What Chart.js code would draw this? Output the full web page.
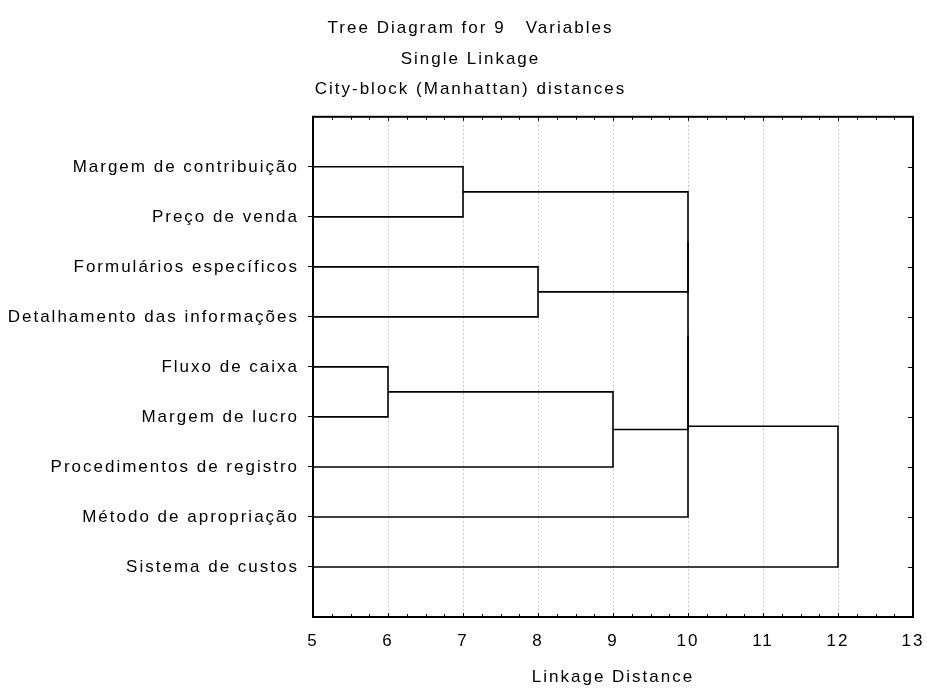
<!DOCTYPE html>
<html>
<head>
<meta charset="utf-8">
<script src="https://cdn.jsdelivr.net/npm/chart.js@4.4.1/dist/chart.umd.min.js"></script>
<style>
  html, body { margin: 0; padding: 0; background: #fff; }
  #wrap { width: 927px; height: 688px; }
</style>
</head>
<body>
<div id="wrap"><canvas id="tree"></canvas></div>
<script>
// leaves, top to bottom
const variables = [
    'Margem de contribuição',
    'Preço de venda',
    'Formulários específicos',
    'Detalhamento das informações',
    'Fluxo de caixa',
    'Margem de lucro',
    'Procedimentos de registro',
    'Método de apropriação',
    'Sistema de custos'
];
// merges: node ids 0..8 are leaves, each merge creates node 9, 10, ...
const joinA = [4, 0, 2, 9, 10, 13, 14, 15];
const joinB = [5, 1, 3, 6, 11, 12, 7, 8];
const joinDist = [6, 7, 8, 9, 10, 10, 10, 12];
const distTicks = [5, 6, 7, 8, 9, 10, 11, 12, 13];
const titleLines = ['Tree Diagram for 9   Variables', 'Single Linkage', 'City-block (Manhattan) distances'];

const FONT = 'Arial, "Liberation Sans", sans-serif';
const SPACING = '2px';

// node positions (row and height) built from the merge table
const nodeRow = variables.map((v, i) => i + 1);
const nodeDist = variables.map(() => distTicks[0]);
const datasets = [];
for (let k = 0; k < joinA.length; k++) {
    const a = joinA[k], b = joinB[k], d = joinDist[k];
    datasets.push({
        data: [
            {x: nodeDist[a], y: nodeRow[a]},
            {x: d, y: nodeRow[a]},
            {x: d, y: nodeRow[b]},
            {x: nodeDist[b], y: nodeRow[b]}
        ],
        showLine: true,
        borderColor: '#000',
        borderWidth: 1.6,
        pointRadius: 0,
        fill: false
    });
    nodeRow.push((nodeRow[a] + nodeRow[b]) / 2);
    nodeDist.push(d);
}

// frame + small inside tick marks like the original
const framePlugin = {
    id: 'frame',
    // canvas resize wipes ctx state, so set spacing again before measuring and drawing
    beforeUpdate(chart) { chart.ctx.letterSpacing = SPACING; },
    beforeLayout(chart) { chart.ctx.letterSpacing = SPACING; },
    beforeDraw(chart) { chart.ctx.letterSpacing = SPACING; },
    afterLayout(chart) {
        // title sits a little right of the canvas centre in the original
        if (chart.titleBlock) chart.titleBlock.left = 14;
    },
    afterDatasetsDraw(chart) {
        const {ctx, chartArea: a, scales} = chart;
        ctx.save();
        ctx.strokeStyle = '#000';
        ctx.lineWidth = 1;
        ctx.beginPath();
        for (let v = distTicks[0]; v <= distTicks[distTicks.length - 1] + 0.001; v += 0.25) {
            const px = Math.round(scales.x.getPixelForValue(v)) + 0.5;
            const len = Math.abs(v - Math.round(v)) < 0.01 ? 4 : 3;
            ctx.moveTo(px, a.top); ctx.lineTo(px, a.top + len);
            ctx.moveTo(px, a.bottom); ctx.lineTo(px, a.bottom - len);
        }
        variables.forEach((v, i) => {
            const py = Math.round(scales.y.getPixelForValue(i + 1)) + 0.5;
            ctx.moveTo(a.right, py); ctx.lineTo(a.right - 5, py);
        });
        ctx.stroke();
        ctx.lineWidth = 2;
        ctx.strokeRect(a.left, a.top, a.right - a.left, a.bottom - a.top);
        ctx.restore();
    }
};

new Chart(document.getElementById('tree'), {
    type: 'scatter',
    data: { datasets: datasets },
    plugins: [framePlugin],
    options: {
        responsive: true,
        maintainAspectRatio: false,
        animation: false,
        layout: { padding: 0 },
        plugins: {
            legend: { display: false },
            tooltip: { enabled: false },
            title: {
                display: true,
                text: titleLines,
                color: '#000',
                font: { family: FONT, size: 17, weight: 'normal', lineHeight: 1.8 },
                padding: { top: 13, bottom: 12 }
            }
        },
        scales: {
            x: {
                type: 'linear',
                min: distTicks[0],
                max: distTicks[distTicks.length - 1],
                afterBuildTicks: s => { s.ticks = distTicks.map(v => ({value: v})); },
                afterFit: s => { s.height = 71; s.paddingLeft = 0; s.paddingRight = 14; },
                grid: {
                    color: c => (c.tick && (c.tick.value === 5 || c.tick.value === 13)) ? 'rgba(0,0,0,0)' : '#c8c8c8',
                    lineWidth: 1,
                    drawTicks: false
                },
                border: { display: false, dash: [2, 2] },
                ticks: {
                    color: '#000',
                    padding: 14,
                    maxRotation: 0,
                    font: { family: FONT, size: 17 }
                },
                title: {
                    display: true,
                    text: 'Linkage Distance',
                    color: '#000',
                    font: { family: FONT, size: 17 },
                    padding: { top: 17, bottom: 0 }
                }
            },
            y: {
                type: 'linear',
                reverse: true,
                min: 0,
                max: variables.length + 1,
                afterBuildTicks: s => { s.ticks = variables.map((v, i) => ({value: i + 1})); },
                afterFit: s => { s.width = 313; },
                grid: {
                    drawOnChartArea: false,
                    color: '#000',
                    tickLength: 5,
                    lineWidth: 1
                },
                border: { display: false },
                ticks: {
                    color: '#000',
                    padding: 9,
                    font: { family: FONT, size: 17 },
                    callback: v => variables[v - 1]
                }
            }
        }
    }
});
</script>
</body>
</html>
